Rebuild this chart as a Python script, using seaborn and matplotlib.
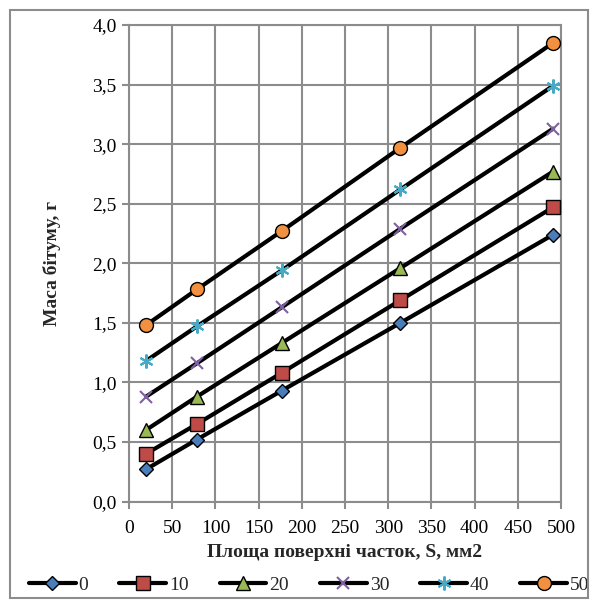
import matplotlib
matplotlib.use("Agg")
import matplotlib.pyplot as plt
import seaborn as sns
import pandas as pd
from matplotlib.patches import Rectangle
from matplotlib.ticker import FuncFormatter, MultipleLocator

# ---- data ----
area = [19.6, 78.5, 176.7, 314.2, 490.9]
s0 = [0.27, 0.52, 0.93, 1.50, 2.24]
s10 = [0.40, 0.65, 1.08, 1.69, 2.47]
s20 = [0.60, 0.88, 1.33, 1.96, 2.77]
s30 = [0.88, 1.16, 1.63, 2.29, 3.13]
s40 = [1.18, 1.47, 1.94, 2.62, 3.49]
s50 = [1.48, 1.78, 2.27, 2.97, 3.85]
series_names = ["0", "10", "20", "30", "40", "50"]
series_vals = [s0, s10, s20, s30, s40, s50]

xlabel = "Площа поверхні часток, S, мм2"
ylabel = "Маса бітуму, г"

rows = []
for name, vals in zip(series_names, series_vals):
    for x, y in zip(area, vals):
        rows.append({"S": x, "m": y, "series": name})
df = pd.DataFrame(rows)

sns.set_theme(style="white")
plt.rcParams["font.family"] = ["Liberation Serif", "DejaVu Serif"]

fig = plt.figure(figsize=(5.94, 6.02), dpi=100)
ax = fig.add_axes([0.2172, 0.1669, 0.7272, 0.7916])

styles = {
    "0": dict(marker="D", markersize=7, markerfacecolor="#4A7EBB", markeredgecolor="black", markeredgewidth=1.0),
    "10": dict(marker="s", markersize=10, markerfacecolor="#BE4B48", markeredgecolor="black", markeredgewidth=1.0),
    "20": dict(marker="^", markersize=10, markerfacecolor="#98B954", markeredgecolor="black", markeredgewidth=1.0),
    "30": dict(marker="x", markersize=9, markerfacecolor="#7D60A0", markeredgecolor="#7D60A0", markeredgewidth=1.5),
    "40": dict(marker=(6, 2, 0), markersize=10, markerfacecolor="#46AAC5", markeredgecolor="#46AAC5", markeredgewidth=1.5),
    "50": dict(marker="o", markersize=10, markerfacecolor="#F09040", markeredgecolor="black", markeredgewidth=1.0),
}

for name in series_names:
    sub = df[df["series"] == name]
    sns.lineplot(data=sub, x="S", y="m", ax=ax, color="black", linewidth=3.0,
                 label=name, zorder=3, **styles[name])

ax.set_xlim(0, 500)
ax.set_ylim(0, 4.0)
ax.xaxis.set_major_locator(MultipleLocator(50))
ax.yaxis.set_major_locator(MultipleLocator(0.5))
ax.yaxis.set_major_formatter(FuncFormatter(lambda v, p: f"{v:.1f}".replace(".", ",")))

gc = "#8C8C8C"
ax.grid(True, color=gc, linewidth=1.5)
ax.set_axisbelow(True)
for sp in ax.spines.values():
    sp.set_color(gc)
    sp.set_linewidth(1.5)
ax.tick_params(axis="both", which="major", direction="out", length=5, width=1.5,
               color=gc, labelsize=14, labelcolor="black", pad=4)
ax.tick_params(axis="x", bottom=True, pad=8)
ax.tick_params(axis="y", left=True)

ax.set_xlabel(xlabel, fontsize=14, fontweight="bold", labelpad=5)
ax.set_ylabel(ylabel, fontsize=14, fontweight="bold", labelpad=22)

ax.legend(loc="upper center", bbox_to_anchor=(0.417, -0.14), ncol=6, frameon=False,
          fontsize=14, handlelength=2.4, handletextpad=0.15, columnspacing=1.6,
          borderaxespad=0)

fig.patches.append(Rectangle((10 / 594, 4 / 602), 578 / 594, 588 / 602, transform=fig.transFigure,
                             fill=False, edgecolor=gc, linewidth=1.5))

fig.savefig("out.png", dpi=100)
